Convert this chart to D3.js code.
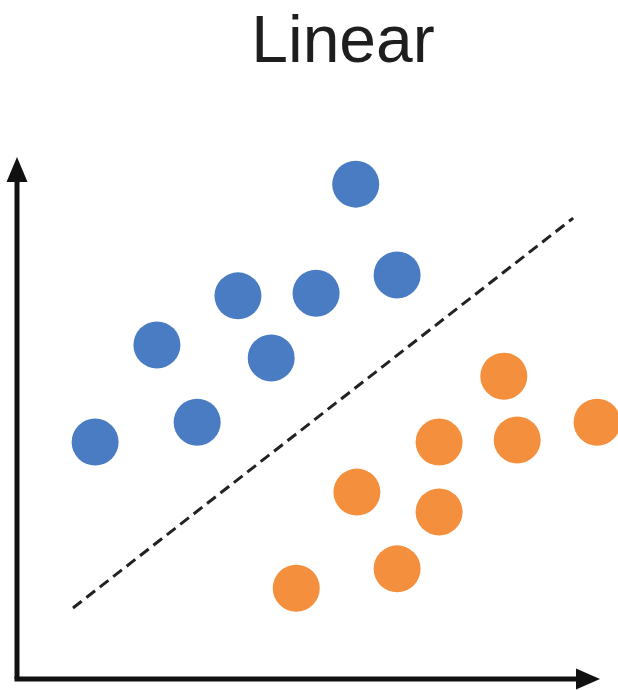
<!DOCTYPE html>
<html><head><meta charset="utf-8">
<script src="https://cdn.jsdelivr.net/npm/d3@7"></script>
<style>html,body{margin:0;padding:0;background:#fff;}svg{display:block;}</style>
</head><body>
<script>
const title = "Linear";
const classA_x = [1.34, 3.09, 2.40, 3.79, 4.36, 5.13, 5.81, 6.52];
const classA_y = [4.54, 4.92, 6.40, 7.34, 6.15, 7.39, 9.48, 7.74];
const classB_x = [4.79, 6.52, 5.83, 7.24, 7.24, 8.35, 8.58, 9.95];
const classB_y = [1.74, 2.11, 3.58, 3.20, 4.54, 5.80, 4.58, 4.92];
const boundary_x = [0.96, 9.54];
const boundary_y = [1.36, 8.83];

const W = 618, H = 690;
const svg = d3.select("body").append("svg").attr("width", W).attr("height", H);
const x = d3.scaleLinear().domain([0, 10]).range([17, 600]);
const y = d3.scaleLinear().domain([0, 10]).range([679, 157]);

svg.append("text").attr("x", 343).attr("y", 62).attr("text-anchor", "middle")
  .attr("font-family", "Liberation Sans, Arial, sans-serif").attr("font-size", 66)
  .attr("fill", "#1e1e1e").text(title);

// axes
const ax = svg.append("g").attr("fill", "#111").attr("stroke", "#111");
ax.append("line").attr("x1", x(0)).attr("y1", y(0)).attr("x2", x(0)).attr("y2", y(10) + 20).attr("stroke-width", 5);
ax.append("line").attr("x1", x(0) - 2.5).attr("y1", y(0)).attr("x2", x(10) - 20).attr("y2", y(0)).attr("stroke-width", 5);
ax.append("path").attr("stroke", "none")
  .attr("d", `M${x(0)},${y(10)} L${x(0) + 10.5},${y(10) + 25} L${x(0) - 10.5},${y(10) + 25} Z`);
ax.append("path").attr("stroke", "none")
  .attr("d", `M${x(10)},${y(0)} L${x(10) - 24},${y(0) - 10.5} L${x(10) - 24},${y(0) + 10.5} Z`);

// boundary
svg.append("line")
  .attr("x1", x(boundary_x[0])).attr("y1", y(boundary_y[0]))
  .attr("x2", x(boundary_x[1])).attr("y2", y(boundary_y[1]))
  .attr("stroke", "#222").attr("stroke-width", 3).attr("stroke-dasharray", "11,6");

const A = classA_x.map((v, i) => ({x: v, y: classA_y[i]}));
const B = classB_x.map((v, i) => ({x: v, y: classB_y[i]}));
svg.append("g").selectAll("circle").data(A).join("circle")
  .attr("cx", d => x(d.x)).attr("cy", d => y(d.y)).attr("r", 23.5).attr("fill", "#4a7cc3");
svg.append("g").selectAll("circle").data(B).join("circle")
  .attr("cx", d => x(d.x)).attr("cy", d => y(d.y)).attr("r", 23.5).attr("fill", "#f4903d");
</script>
</body></html>
